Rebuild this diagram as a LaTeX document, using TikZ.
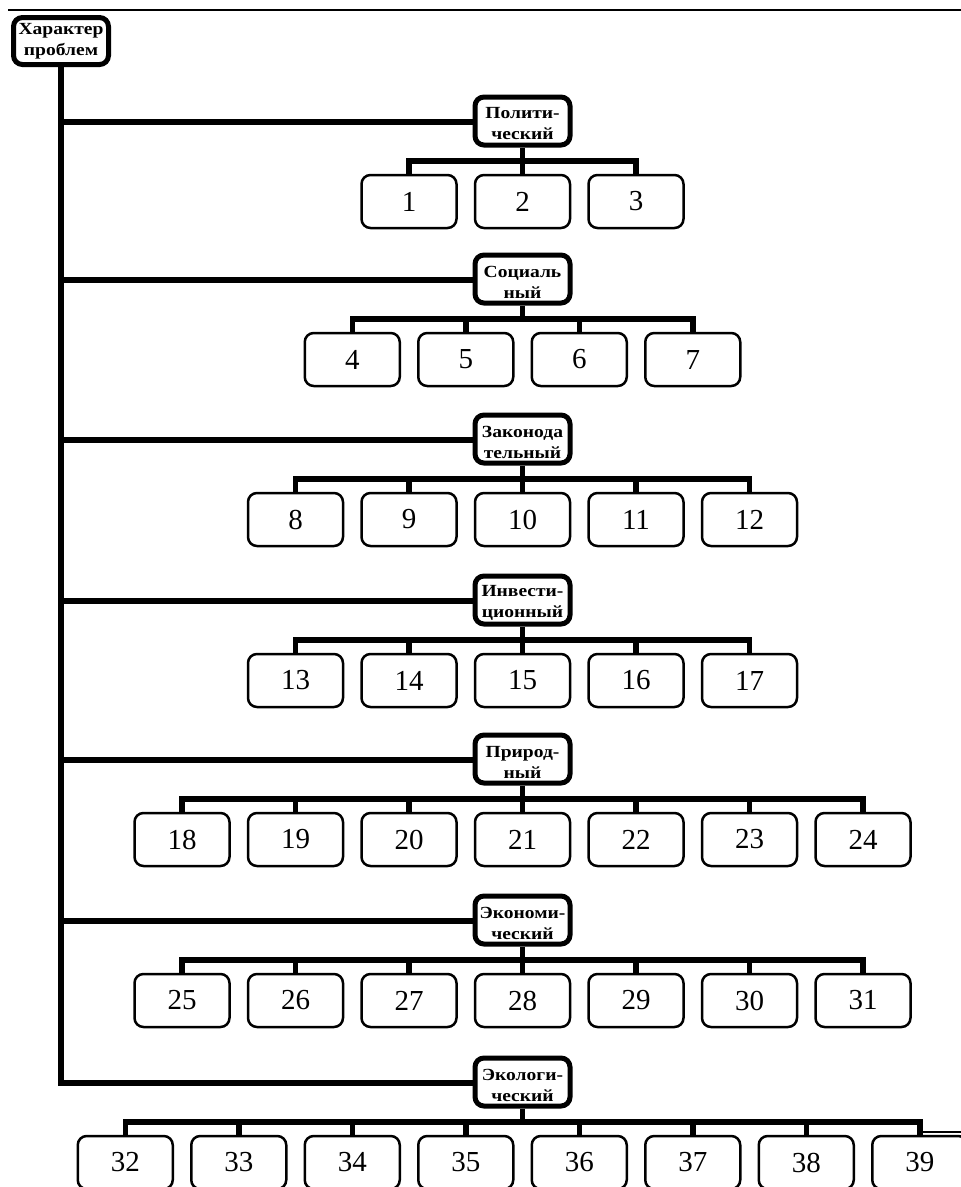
\documentclass[tikz,border=0pt]{standalone}
\usepackage{fontspec}
\setmainfont{Liberation Serif}
\newfontfamily\catfont{Liberation Serif}[FakeStretch=1.15]
\begin{document}
\begin{tikzpicture}[x=1pt,y=-1pt,
  catbox/.style={draw, line width=5pt, rounded corners=9pt, minimum width=95pt, minimum height=48pt, inner sep=0pt, fill=white},
  cattext/.style={font=\catfont\bfseries\fontsize{17}{21}\selectfont, align=center, inner sep=0pt},
  kid/.style={draw, line width=2.5pt, rounded corners=9pt, minimum width=95pt, minimum height=53pt, inner sep=0pt, fill=white, font=\fontsize{29}{29}\selectfont},
  conn/.style={line width=5.5pt, line join=miter},
  frameline/.style={line width=2pt}]
\useasboundingbox (0,0) rectangle (961,1187);
\clip (0,0) rectangle (961,1187);
% frame lines
\coordinate (ftl) at (8,10);
\coordinate (ftr) at (961,10);
\coordinate (fbl) at (923,1132);
\coordinate (fbr) at (961,1132);
\draw[frameline] (ftl) -- (ftr);
\draw[frameline] (fbl) -- (fbr);
% root
\node[catbox, minimum height=47pt] (root) at (61,41) {};
\node[cattext] (roott) at ([yshift=-0.5pt]root.center) {Характер\\проблем};
% groups
\foreach \g/\Y/\lab/\first/\n in {
  1/122/{Полити-\\ческий}/1/3,
  2/280/{Социаль\\ный}/4/4,
  3/440/{Законода\\тельный}/8/5,
  4/601/{Инвести-\\ционный}/13/5,
  5/760/{Природ-\\ный}/18/7,
  6/921/{Экономи-\\ческий}/25/7,
  7/1083/{Экологи-\\ческий}/32/8}{
  \coordinate (trunk\g) at (61,\Y);
  \coordinate (bus\g) at (522.5,\Y+39);
  \node[catbox] (cat\g) at (522.5,\Y-1) {};
  \node[cattext] (catt\g) at ([yshift=-3pt]cat\g.center) {\lab};
  \pgfmathtruncatemacro\last{\first+\n-1}
  \foreach \i in {1,...,\n}{
    \pgfmathtruncatemacro\num{\first+\i-1}
    \pgfmathsetmacro\kx{522.5+113.5*(\i-(\n+1)/2)}
    \node[kid] (k\num) at (\kx,\Y+79.5) {\num};
  }
  \draw[conn] (cat\g.south) -- (bus\g);
  \draw[conn] (k\first.north) |- (bus\g) -| (k\last.north);
  \foreach \i in {2,...,\n}{
    \pgfmathtruncatemacro\num{\first+\i-1}
    \draw[conn] (k\num.north) -- (k\num.north |- bus\g);
  }
}
% trunk and branches
\draw[conn] (root.south -| trunk1) -- (trunk7) -- (cat7.west |- trunk7);
\foreach \g in {1,...,6}{
  \draw[conn] (trunk\g) -- (cat\g.west |- trunk\g);
}
\end{tikzpicture}
\end{document}
